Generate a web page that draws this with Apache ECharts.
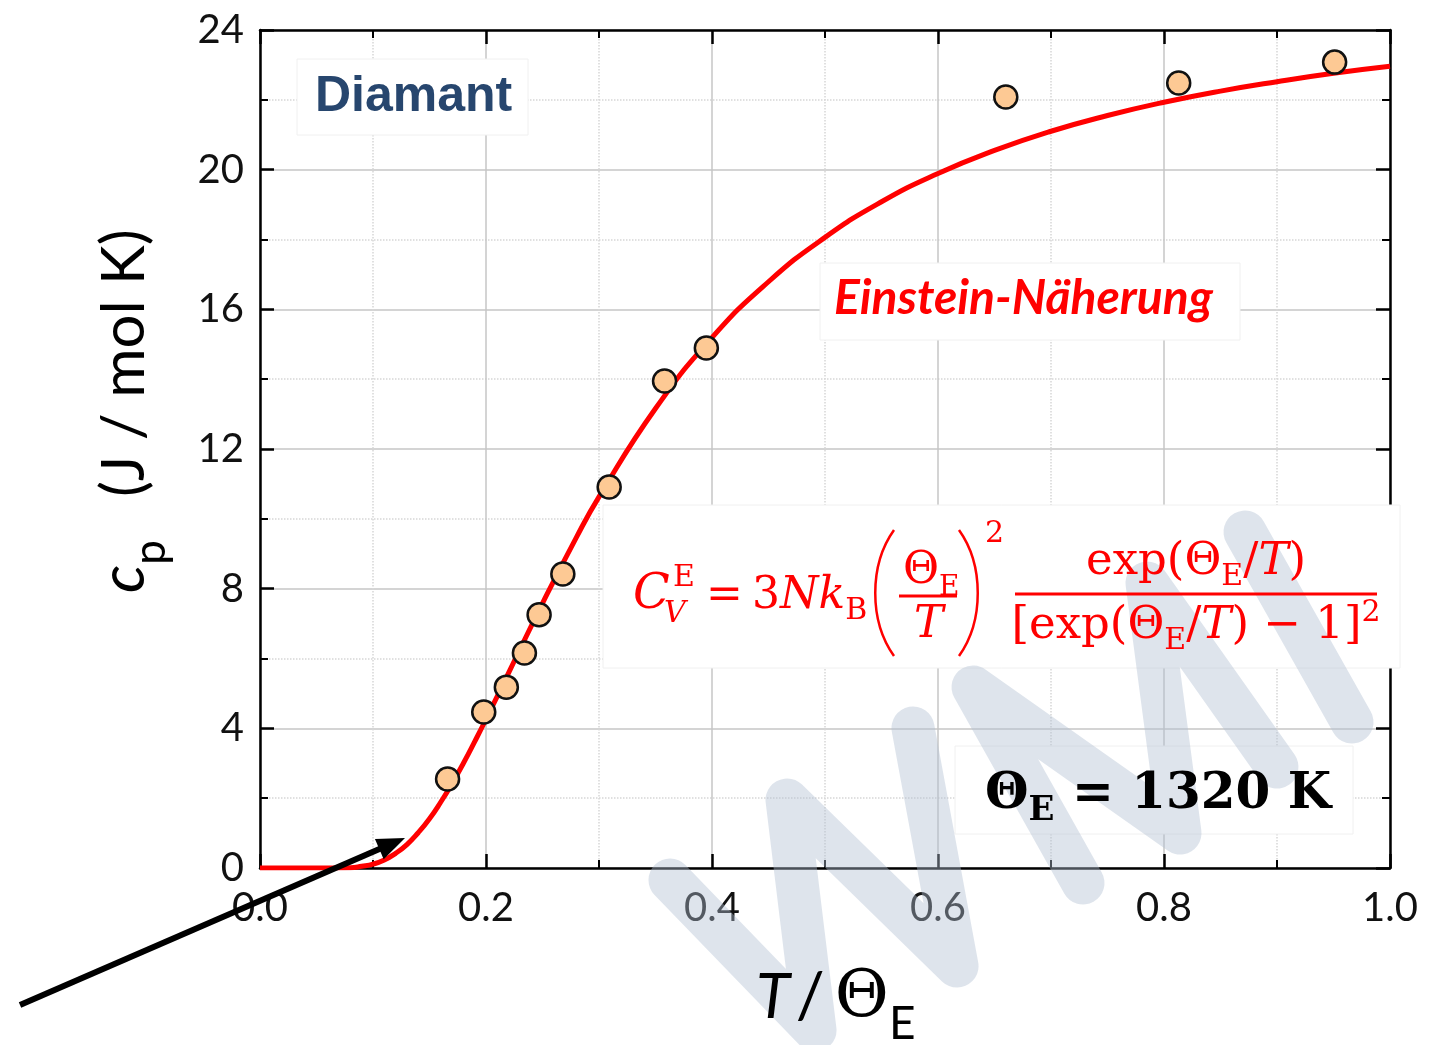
<!DOCTYPE html>
<html><head><meta charset="utf-8">
<script src="https://cdn.jsdelivr.net/npm/echarts@6/dist/echarts.min.js"></script>
<style>html,body{margin:0;padding:0;background:#fff}#c{width:1431px;height:1045px}</style>
</head><body><div id="c"></div>
<script>
// ---- data ----
const xTickLabels = ['0.0','0.2','0.4','0.6','0.8','1.0'];
const yTickLabels = ['0','4','8','12','16','20','24'];
const measT  = [0.166, 0.198, 0.218, 0.234, 0.247, 0.268, 0.309, 0.358, 0.395, 0.660, 0.813, 0.951];
const measCp = [2.55, 4.47, 5.18, 6.16, 7.25, 8.42, 10.91, 13.95, 14.89, 22.08, 22.48, 23.08];
const fitT  = [0, 0.05, 0.08, 0.09, 0.10, 0.11, 0.12, 0.13, 0.14, 0.15, 0.16, 0.17, 0.18, 0.19, 0.20, 0.22, 0.25, 0.28, 0.30, 0.35, 0.40, 0.45, 0.50, 0.55, 0.60, 0.65, 0.70, 0.75, 0.80, 0.85, 0.90, 0.95, 1.00];
const fitCp = [0, 0, 0.01, 0.05, 0.11, 0.23, 0.42, 0.67, 1.01, 1.41, 1.89, 2.42, 3.00, 3.62, 4.26, 5.59, 7.58, 9.47, 10.63, 13.16, 15.19, 16.79, 18.06, 19.08, 19.89, 20.55, 21.10, 21.55, 21.93, 22.25, 22.52, 22.76, 22.96];

// ---- text helpers ----
const mctx = document.createElement('canvas').getContext('2d');
const MIDK = {'DejaVu Serif':0.346,'Lato':0.387,'Liberation Sans':0.346,'Liberation Serif':0.338};
function fnt(p){return (p.it?'italic ':'normal ')+(p.b?'bold ':'normal ')+p.s+'px "'+p.f+'"';}
function tw(p){mctx.font=fnt(p);return mctx.measureText(p.t).width;}
function T(x, base, p, color, z){
  return {type:'text', zlevel:1, z:z||20, silent:true, x:x, y: base - MIDK[p.f]*p.s,
    style:{text:p.t, fill:color, fontSize:p.s, fontFamily:p.f, fontStyle:p.it?'italic':'normal',
      fontWeight:p.b?'bold':'normal', align:'left', textAlign:'left', verticalAlign:'middle', textVerticalAlign:'middle'}};
}
function run(x, base, pieces, color, out){
  pieces.forEach(p=>{ x += (p.dx||0); out.push(T(x, base+(p.dy||0), p, color)); x += tw(p); });
  return x;
}
function runW(pieces){ return pieces.reduce((a,p)=>a+(p.dx||0)+tw(p),0); }

const RED = '#ff0000';
const G = [];
// white boxes (hide the grid behind the annotations)
function box(x,y,w,h){ G.push({type:'rect', zlevel:0, z:1, silent:true, shape:{x,y,width:w,height:h}, style:{fill:'#fff', stroke:'#f0f0f0', lineWidth:1}}); }
box(297,59,231,76);
box(820,263,420,77);
box(603,505,797,163);
box(955,746,398,88);

// watermark (separate layer above boxes, below texts)
const wmStyle = {stroke:'rgba(176,190,210,0.42)', lineWidth:43, lineCap:'round', lineJoin:'round', fill:null};
[[[670,880],[815,1030],[787,800],[957,966],[913,728]],
 [[1083,883],[973,687],[1180,833],[1147,583],[1277,767]],
 [[1245,532],[1352,722]]].forEach(pts=>G.push({type:'polyline', zlevel:1, z:5, silent:true, shape:{points:pts}, style:wmStyle}));

// Diamant
G.push(T(315,115,{t:'Diamant',s:50,f:'Liberation Sans',b:true},'#27466e'));
// Einstein-Näherung
G.push(T(834,317,{t:'Einstein-Näherung',s:48,f:'Lato',b:true,it:true},RED));

// formula
const SF='DejaVu Serif';
G.push(T(633,612,{t:'C',s:48,f:SF,it:true},RED));
G.push(T(673,589,{t:'E',s:30,f:SF},RED));
G.push(T(664,625,{t:'V',s:30,f:SF,it:true},RED));
G.push(T(706,612,{t:'=',s:44,f:SF},RED));
run(752,612,[{t:'3',s:44,f:SF},{t:'Nk',s:44,f:SF,it:true},{t:'B',s:30,f:SF,dy:10}],RED,G);
const pst = {stroke:RED, lineWidth:2.5, fill:null};
G.push({type:'bezierCurve', zlevel:1, z:20, silent:true, shape:{x1:894,y1:530,x2:894,y2:656,cpx1:869,cpy1:565,cpx2:869,cpy2:621}, style:pst});
G.push({type:'bezierCurve', zlevel:1, z:20, silent:true, shape:{x1:959,y1:530,x2:959,y2:656,cpx1:984,cpy1:565,cpx2:984,cpy2:621}, style:pst});
run(903,587,[{t:'Θ',s:44,f:SF},{t:'E',s:28,f:SF,dy:10}],RED,G);
G.push({type:'line', zlevel:1, z:20, silent:true, shape:{x1:899,y1:596,x2:957,y2:596}, style:{stroke:RED, lineWidth:3}});
G.push(T(914,641,{t:'T',s:44,f:SF,it:true},RED));
G.push(T(985,545,{t:'2',s:30,f:SF},RED));
G.push({type:'line', zlevel:1, z:20, silent:true, shape:{x1:1015,y1:594,x2:1377,y2:594}, style:{stroke:RED, lineWidth:3}});
const num = [{t:'exp(Θ',s:45,f:SF},{t:'E',s:30,f:SF,dy:10},{t:'/',s:45,f:SF},{t:'T',s:45,f:SF,it:true},{t:')',s:45,f:SF}];
run(1196-runW(num)/2,578,num,RED,G);
const den = [{t:'[exp(Θ',s:45,f:SF},{t:'E',s:30,f:SF,dy:10},{t:'/',s:45,f:SF},{t:'T',s:45,f:SF,it:true},{t:') − 1]',s:45,f:SF},{t:'2',s:30,f:SF,dy:-18}];
run(1196-runW(den)/2,642,den,RED,G);

// Theta_E = 1320 K
run(985,812,[{t:'Θ',s:50,f:SF,b:true},{t:'E',s:34,f:SF,b:true,dy:11},{t:' = 1320 K',s:50,f:SF,b:true}],'#000',G);

// x axis title
run(756,1022,[{t:'T',s:62,f:'Lato',it:true},{t:'/',s:64,f:'Lato',dx:6},{t:'Θ',s:66,f:SF,dx:10},{t:'E',s:46,f:'Lato',dy:20}],'#000',G);

// y axis title (rotated group)
const yt = [];
run(0,0,[{t:'c',s:62,f:'Lato',it:true},{t:'p',s:44,f:'Lato',dy:20}],'#000',yt);
run(96,0,[{t:'(J / mol K)',s:60,f:'Lato'}],'#000',yt);
G.push({type:'group', x:148, y:593, rotation:Math.PI/2, silent:true, children:yt});

// arrow
(function(){
  const x0=20,y0=1005,x1=405,y1=838, L=Math.hypot(x1-x0,y1-y0), ux=(x1-x0)/L, uy=(y1-y0)/L, px=-uy, py=ux;
  const hl=28, hw=11, bx=x1-hl*ux, by=y1-hl*uy;
  G.push({type:'line', zlevel:1, z:30, silent:true, shape:{x1:x0,y1:y0,x2:bx+2*ux,y2:by+2*uy}, style:{stroke:'#000', lineWidth:6}});
  G.push({type:'polygon', zlevel:1, z:30, silent:true, shape:{points:[[x1,y1],[bx+hw*px,by+hw*py],[bx-hw*px,by-hw*py]]}, style:{fill:'#000'}});
})();

// ---- chart ----
const xMin=+xTickLabels[0], xMax=+xTickLabels[xTickLabels.length-1], xInt=+xTickLabels[1]-xMin;
const yMin=+yTickLabels[0], yMax=+yTickLabels[yTickLabels.length-1], yInt=+yTickLabels[1]-yMin;
const axLine={show:true,onZero:false,lineStyle:{color:'#000',width:2.5}};
const tick={show:true,inside:true,length:14,lineStyle:{color:'#000',width:2.5}};
const mtick={show:true,splitNumber:2,length:8,lineStyle:{color:'#000',width:2}};
const split={show:true,lineStyle:{color:'#c6c6c6',width:1.5}};
const msplit={show:true,lineStyle:{color:'#d6d6d6',width:1.5,type:'dotted'}};
const lab={fontSize:40,fontFamily:'Lato',color:'#111'};
const chart = echarts.init(document.getElementById('c'),null,{renderer:'canvas'});
chart.setOption({
  animation:false,
  backgroundColor:'#fff',
  grid:{left:260,right:41,top:30,bottom:177},
  xAxis:[
    {type:'value',min:xMin,max:xMax,interval:xInt,position:'bottom',axisLine:axLine,axisTick:tick,minorTick:mtick,splitLine:split,minorSplitLine:msplit,
     axisLabel:Object.assign({margin:20,formatter:v=>xTickLabels[Math.round((v-xMin)/xInt)]},lab)},
    {type:'value',min:xMin,max:xMax,interval:xInt,position:'top',axisLine:axLine,axisTick:tick,minorTick:mtick,splitLine:{show:false},axisLabel:{show:false}}
  ],
  yAxis:[
    {type:'value',min:yMin,max:yMax,interval:yInt,position:'left',axisLine:axLine,axisTick:tick,minorTick:mtick,splitLine:split,minorSplitLine:msplit,
     axisLabel:Object.assign({margin:16,formatter:v=>yTickLabels[Math.round((v-yMin)/yInt)]},lab)},
    {type:'value',min:yMin,max:yMax,interval:yInt,position:'right',axisLine:axLine,axisTick:tick,minorTick:mtick,splitLine:{show:false},axisLabel:{show:false}}
  ],
  series:[
    {type:'line',xAxisIndex:0,yAxisIndex:0,data:fitT.map((t,i)=>[t,fitCp[i]]),smooth:0.5,showSymbol:false,symbol:'none',
     lineStyle:{color:RED,width:5},z:2,silent:true},
    {type:'scatter',xAxisIndex:0,yAxisIndex:0,data:measT.map((t,i)=>[t,measCp[i]]),symbol:'circle',symbolSize:23,
     itemStyle:{color:'#fdc994',borderColor:'#111',borderWidth:2.5,opacity:1},z:3,silent:true}
  ],
  graphic:{elements:G}
});
</script></body></html>
